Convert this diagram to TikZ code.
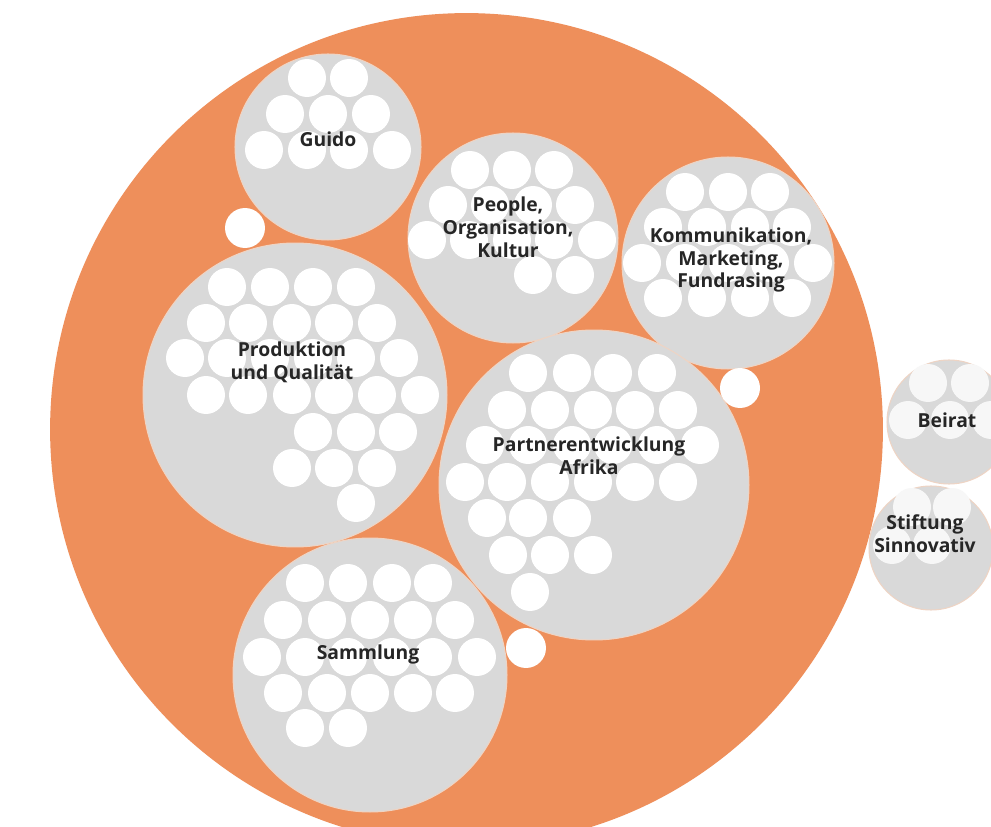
\documentclass[tikz,border=0pt]{standalone}
\usepackage{fontspec}
\setmainfont{Open Sans}

\definecolor{netzorange}{RGB}{238,143,91}
\definecolor{kreisgrau}{RGB}{217,217,217}
\definecolor{kreisrand}{RGB}{238,212,196}
\tikzset{
  kreis/.style={circle,fill=kreisgrau,draw=kreisrand,line width=0.6pt,inner sep=0pt},
  punkt/.style={fill=white},
  punktblass/.style={fill=white!80!kreisgrau},
  titel/.style={font=\bfseries\fontsize{11}{13}\selectfont,align=center,text=black!85}
}

\begin{document}
\begin{tikzpicture}[x=0.02cm,y=-0.02cm]
\useasboundingbox (0,0) rectangle (991,827);
\clip (0,0) rectangle (991,827);
\fill[white] (0,0) rectangle (991,827);

\node[circle,fill=netzorange,inner sep=0pt,minimum size=16.66cm] (Netzwerk) at (466.5,429.5) {};

\node[kreis,minimum size=3.72cm] (Guido) at (328,147) {};
\node[kreis,minimum size=4.2cm] (People) at (513,238) {};
\node[kreis,minimum size=4.24cm] (Kommunikation) at (728,263) {};
\node[kreis,minimum size=6.08cm] (Produktion) at (295,395) {};
\node[kreis,minimum size=6.2cm] (Partner) at (594,485) {};
\node[kreis,minimum size=5.48cm] (Sammlung) at (370,675) {};
\node[kreis,minimum size=2.48cm] (Beirat) at (949,422) {};
\node[kreis,minimum size=2.48cm] (Stiftung) at (931,548) {};

% Mitarbeitende
\foreach \y/\xs in {78/{307,349},114/{285,328,371},150/{264,307,349,392}}
  \foreach \x in \xs \fill[punkt] (\x,\y) circle (0.38cm);
\foreach \y/\xs in {170/{470,512,554},205/{448,490,533,575},240/{427,469,512,554,597},275/{533,575}}
  \foreach \x in \xs \fill[punkt] (\x,\y) circle (0.38cm);
\foreach \y/\xs in {192/{685,728,770},227/{663,707,750,792},263/{642,685,728,770,813},298/{663,707,750,792}}
  \foreach \x in \xs \fill[punkt] (\x,\y) circle (0.38cm);
\foreach \y/\xs in {287/{227,270,313,356},323/{206,248,292,334,377},358/{185,227,270,313,356,399},395/{206,248,292,334,377,420},432/{313,356,398},468/{292,334,377},503/{356}}
  \foreach \x in \xs \fill[punkt] (\x,\y) circle (0.38cm);
\foreach \y/\xs in {373/{528,572,613,657},410/{507,550,593,635,678},445/{485,528,572,613,657,700},482/{465,507,550,593,635,678},518/{487,528,572},555/{508,550,593},592/{530}}
  \foreach \x in \xs \fill[punkt] (\x,\y) circle (0.38cm);
\foreach \y/\xs in {583/{305,348,392,433},620/{283,327,370,413,455},657/{262,305,348,392,433,477},693/{283,327,370,413,455},728/{305,348}}
  \foreach \x in \xs \fill[punkt] (\x,\y) circle (0.38cm);
\foreach \y/\xs in {383/{928,970},420/{908,950,991},507/{912,952},545/{892,932}}
  \foreach \x in \xs \fill[punktblass] (\x,\y) circle (0.38cm);

\fill[punkt] (245,228) circle (0.4cm);
\fill[punkt] (740,388) circle (0.4cm);
\fill[punkt] (526,648) circle (0.4cm);

\node[titel] (GuidoText) at (328,139) {Guido};
\node[titel] (PeopleText) at (508,227) {People,\\Organisation,\\Kultur};
\node[titel] (KommunikationText) at (731,260) {Kommunikation,\\Marketing,\\Fundrasing};
\node[titel] (ProduktionText) at (292,362) {Produktion\\und Qualität};
\node[titel] (PartnerText) at (589,456) {Partnerentwicklung\\Afrika};
\node[titel] (SammlungText) at (368,654) {Sammlung};
\node[titel] (BeiratText) at (947,420) {Beirat};
\node[titel] (StiftungText) at (925,534) {Stiftung\\Sinnovativ};
\end{tikzpicture}
\end{document}
